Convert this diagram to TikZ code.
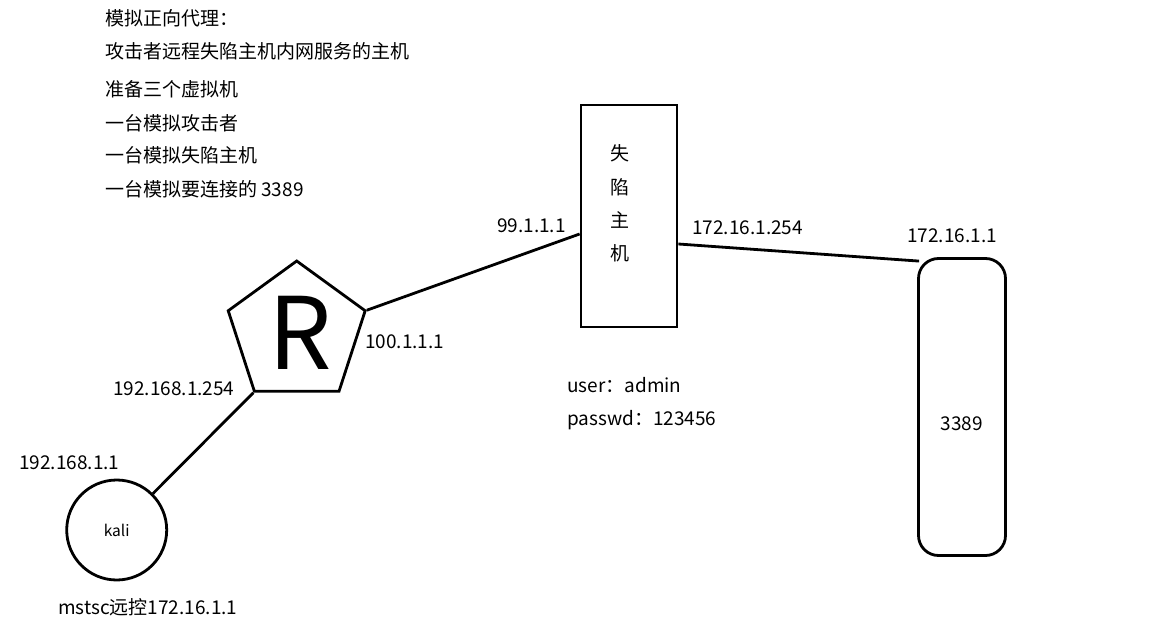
\documentclass[tikz,border=0pt]{standalone}
\usepackage{fontspec}
\newfontfamily\cjk{Noto Sans CJK SC}
\usetikzlibrary{shapes.geometric}
\begin{document}
\begin{tikzpicture}[x=1pt,y=-1pt,
  txt/.style={font=\cjk\fontsize{19}{22}\selectfont, inner sep=0pt, anchor=base west},
  link/.style={line width=2.8pt},
  shapebox/.style={draw, line width=2.8pt, inner sep=0pt}]
\useasboundingbox[fill=white] (0,0) rectangle (1166,623);

% notes
\node[txt] (n1) at (105,25.5) {模拟正向代理：};
\node[txt] (n2) at (105,58.5) {攻击者远程失陷主机内网服务的主机};
\node[txt] (n3) at (105,96.5) {准备三个虚拟机};
\node[txt] (n4) at (105,130) {一台模拟攻击者};
\node[txt] (n5) at (105,162.5) {一台模拟失陷主机};
\node[txt] (n6) at (105,196.5) {一台模拟要连接的 3389};

% router
\node[shapebox, regular polygon, regular polygon sides=5, minimum size=144pt] (router) at (296.7,333) {};
\node[font=\cjk\fontsize{100}{100}\selectfont, inner sep=0pt] (rlabel) at (300.5,333) {R};

% compromised host
\node[shapebox, minimum width=96pt, minimum height=222pt] (host) at (629,216) {};
\node[font=\cjk\fontsize{19}{33.3}\selectfont, align=center, inner sep=0pt] (hostlabel) at (620,203.5) {失\\陷\\主\\机};

% target server
\node[shapebox, rounded corners=20pt, minimum width=87pt, minimum height=297pt] (srv) at (962,407) {};
\node[font=\cjk\fontsize{19}{22}\selectfont, inner sep=0pt] (srvlabel) at (961.7,423.3) {3389};

% kali
\node[shapebox, circle, minimum size=100pt, font=\cjk\fontsize{15.5}{18}\selectfont] (kali) at (116.7,530) {kali};

% connectors
\draw[link] (kali) -- (router.corner 3);
\draw[link] (router.corner 5) -- ([yshift=-18pt]host.west);
\draw[link] ([yshift=-28pt]host.east) -- ([xshift=2pt,yshift=-4pt]srv.north west);

% labels
\node[txt] (l1) at (497,232) {99.1.1.1};
\node[txt] (l2) at (692,234) {172.16.1.254};
\node[txt] (l3) at (907,242) {172.16.1.1};
\node[txt] (l4) at (365,348) {100.1.1.1};
\node[txt] (l5) at (113,395) {192.168.1.254};
\node[txt] (l6) at (19,469) {192.168.1.1};
\node[txt] (l7) at (58,614) {mstsc远控172.16.1.1};
\node[txt] (l8) at (567,392) {user：admin};
\node[txt] (l9) at (567,425) {passwd：123456};
\end{tikzpicture}
\end{document}
